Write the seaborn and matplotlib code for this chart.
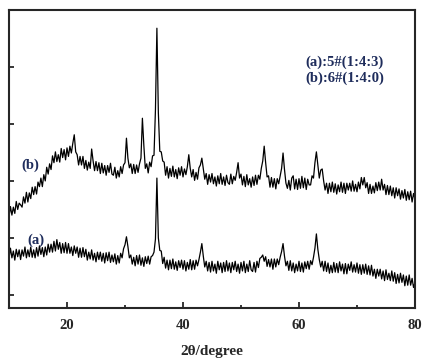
import numpy as np
import matplotlib
matplotlib.use('Agg')
import matplotlib.pyplot as plt
import seaborn as sns

# 2-theta grid, 0.25 degree steps from 10 to 80
two_theta = np.linspace(10, 80, 281)

# pattern (b): 6#(1:4:0), one row = 2 degrees
intensity_b = [
    137, 155, 140, 154, 143, 164, 150, 161,
    158, 154, 172, 161, 180, 163, 179, 169,
    189, 176, 190, 177, 198, 190, 205, 190,
    211, 200, 224, 212, 230, 220, 244, 232,
    251, 234, 246, 233, 257, 241, 255, 237,
    258, 243, 261, 249, 266, 281, 251, 246,
    228, 243, 228, 243, 222, 236, 219, 233,
    222, 256, 235, 218, 234, 218, 232, 213,
    231, 214, 227, 210, 227, 215, 231, 212,
    210, 224, 205, 218, 207, 225, 213, 228,
    232, 275, 240, 223, 230, 213, 229, 213,
    228, 215, 230, 240, 310, 262, 222, 230,
    214, 233, 225, 244, 245, 325, 468, 320,
    252, 251, 235, 233, 210, 225, 205, 222,
    208, 226, 207, 220, 204, 223, 210, 225,
    207, 221, 211, 225, 246, 222, 207, 220,
    201, 215, 203, 223, 228, 240, 222, 203,
    213, 194, 211, 198, 213, 195, 207, 191,
    209, 195, 213, 194, 207, 192, 210, 197,
    194, 212, 195, 208, 201, 215, 232, 205,
    212, 193, 208, 190, 211, 193, 204, 189,
    207, 192, 210, 194, 210, 203, 222, 235,
    261, 232, 207, 209, 189, 206, 189, 204,
    186, 204, 195, 209, 222, 249, 220, 196,
    187, 201, 184, 205, 209, 186, 203, 185,
    204, 187, 208, 188, 205, 185, 203, 193,
    193, 209, 205, 232, 251, 228, 205, 219,
    221, 200, 184, 196, 178, 196, 181, 198,
    180, 195, 177, 193, 181, 198, 180, 196,
    178, 196, 184, 196, 182, 200, 182, 194,
    181, 198, 186, 206, 193, 206, 188, 197,
    178, 194, 178, 191, 179, 197, 183, 198,
    184, 203, 184, 194, 176, 192, 176, 191,
    174, 188, 170, 188, 174, 186, 168, 183,
    170, 185, 166, 181, 167, 182, 163, 178,
    168,
]

# pattern (a): 5#(1:4:3)
intensity_a = [
    64, 82, 65, 77, 61, 80, 67, 79,
    62, 79, 68, 84, 65, 79, 67, 84,
    66, 79, 65, 83, 68, 86, 71, 83,
    67, 84, 70, 89, 75, 89, 75, 94,
    77, 97, 80, 92, 73, 90, 74, 92,
    73, 90, 73, 84, 69, 86, 73, 84,
    66, 82, 66, 83, 67, 80, 61, 75,
    63, 79, 61, 73, 58, 75, 62, 75,
    59, 73, 56, 74, 60, 75, 57, 70,
    58, 72, 54, 69, 56, 73, 65, 81,
    88, 102, 85, 65, 70, 54, 66, 51,
    69, 54, 70, 52, 65, 50, 67, 55,
    68, 54, 67, 69, 75, 98, 205, 100,
    78, 77, 55, 66, 47, 61, 44, 61,
    46, 63, 45, 58, 43, 60, 48, 61,
    45, 60, 42, 57, 45, 62, 44, 60,
    45, 61, 51, 62, 75, 90, 68, 49,
    59, 42, 57, 40, 59, 42, 54, 38,
    59, 44, 56, 39, 57, 41, 60, 42,
    56, 39, 57, 44, 59, 41, 54, 38,
    57, 42, 59, 39, 54, 41, 60, 44,
    41, 57, 40, 59, 48, 64, 66, 70,
    59, 67, 50, 62, 49, 63, 45, 63,
    49, 63, 53, 66, 76, 90, 68, 51,
    59, 43, 60, 42, 56, 39, 54, 42,
    59, 41, 56, 40, 58, 46, 59, 45,
    60, 53, 66, 82, 107, 80, 62, 49,
    59, 42, 59, 41, 56, 38, 52, 39,
    57, 40, 55, 39, 58, 42, 54, 37,
    55, 37, 54, 43, 58, 40, 53, 40,
    56, 38, 53, 36, 53, 38, 54, 36,
    51, 35, 52, 33, 45, 29, 45, 33,
    45, 28, 42, 25, 44, 27, 38, 25,
    42, 24, 39, 20, 36, 21, 38, 22,
    35, 16, 33, 17, 35, 17, 29, 13,
    22,
]

legend_lines = ['(a):5#(1:4:3)', '(b):6#(1:4:0)']

sns.set_style('ticks')
plt.rcParams['font.family'] = ['Liberation Serif', 'DejaVu Serif']
plt.rcParams['font.weight'] = 'bold'

navy = '#1f2d5c'

fig = plt.figure(figsize=(4.33, 3.62), dpi=100)
ax = fig.add_axes([0.0208, 0.1492, 0.9376, 0.8232])

sns.lineplot(x=two_theta, y=intensity_a, color='black', lw=0.9, ax=ax, estimator=None)
sns.lineplot(x=two_theta, y=intensity_b, color='black', lw=0.9, ax=ax, estimator=None)

ax.set_xlim(10, 80)
ax.set_ylim(-23, 500)
ax.set_xticks([20, 40, 60, 80])
ax.set_xticks([30, 50, 70], minor=True)
ax.set_yticks([0, 100, 200, 300, 400])
ax.set_yticklabels([])
ax.tick_params(axis='both', which='both', direction='in', width=1.3)
ax.tick_params(axis='x', which='major', length=4, labelsize=10.5, pad=8)
ax.tick_params(axis='x', which='minor', length=2.5)
ax.tick_params(axis='y', length=3.5)
for lab in ax.get_xticklabels():
    lab.set_fontweight('bold')
for s in ax.spines.values():
    s.set_linewidth(1.5)

ax.set_xlabel('2θ/degree', fontsize=11, fontweight='bold', labelpad=9)
ax.set_ylabel('')

ax.text(0.729, 0.8255, legend_lines[0], transform=ax.transAxes, fontsize=10.5,
        fontweight='bold', color=navy, va='center', ha='left')
ax.text(0.729, 0.7718, legend_lines[1], transform=ax.transAxes, fontsize=10.5,
        fontweight='bold', color=navy, va='center', ha='left')

ax.text(13.2, 95, '(a)', fontsize=10.5, fontweight='bold', color=navy, va='center')
ax.text(12.2, 228, '(b)', fontsize=10.5, fontweight='bold', color=navy, va='center')

fig.savefig('out.png', dpi=100)
